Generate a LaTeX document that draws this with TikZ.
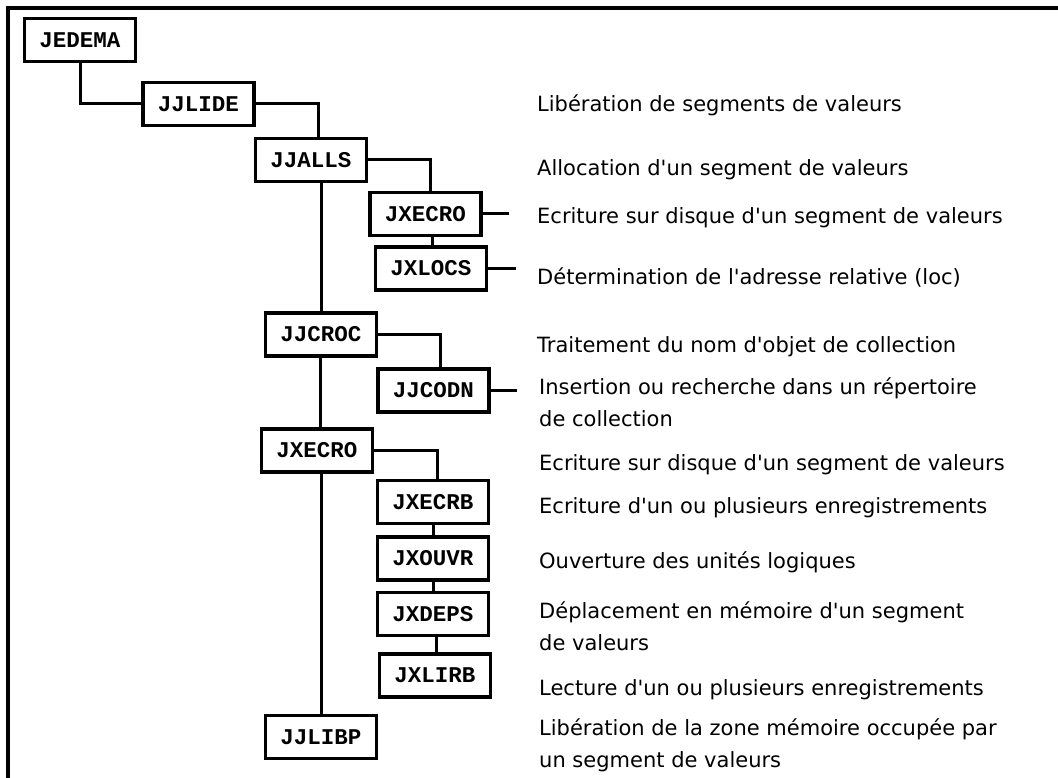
\documentclass[tikz,border=0pt]{standalone}
\usepackage{fontspec}
\usepackage{tikz}
\usetikzlibrary{positioning,calc}
\newfontfamily\boxfont{Liberation Mono}
\newfontfamily\descfont{DejaVu Sans}

\begin{document}
\begin{tikzpicture}[x=1pt, y=-1pt,
  box/.style={draw, line width=3.5pt, minimum width=111pt, minimum height=43pt, inner sep=0pt,
    font=\boxfont\bfseries\fontsize{22.5}{24}\selectfont},
  link/.style={line width=3pt},
  desc/.style={anchor=west, inner sep=0pt, align=left,
    font=\descfont\fontsize{21}{32}\selectfont}]
\useasboundingbox (0,0) rectangle (1058,778);
% frame
\draw[line width=4pt] (7.5,778) -- (7.5,8.5) -- (1058,8.5);
% modules
\node[box] (jedema)  at (80,40)      {JEDEMA};
\node[box] (jjlide)  at (198.5,104)  {JJLIDE};
\node[box] (jjalls)  at (311,160)    {JJALLS};
\node[box] (jxecroA) at (425.5,214)  {JXECRO};
\node[box] (jxlocs)  at (431,268.5)  {JXLOCS};
\node[box] (jjcroc)  at (321,334.5)  {JJCROC};
\node[box] (jjcodn)  at (433.5,390.5){JJCODN};
\node[box] (jxecroB) at (317,450.5)  {JXECRO};
\node[box] (jxecrb)  at (433,502)    {JXECRB};
\node[box] (jxouvr)  at (433,558.5)  {JXOUVR};
\node[box] (jxdeps)  at (433,614)    {JXDEPS};
\node[box] (jxlirb)  at (435,675.5)  {JXLIRB};
\node[box] (jjlibp)  at (321,737)    {JJLIBP};
% descriptions
\node[desc] (dlide)  at (537,105) {Libération de segments de valeurs};
\node[desc] (dalls)  at (537,170) {Allocation d'un segment de valeurs};
\node[desc] (decroA) at (537,218) {Ecriture sur disque d'un segment de valeurs};
\node[desc] (dlocs)  at (537,277) {Détermination de l'adresse relative (loc)};
\node[desc] (dcroc)  at (537,347) {Traitement du nom d'objet de collection};
\node[desc] (dcodn)  at (539,402) {Insertion ou recherche dans un répertoire\\de collection};
\node[desc] (decroB) at (539,465) {Ecriture sur disque d'un segment de valeurs};
\node[desc] (decrb)  at (539,508) {Ecriture d'un ou plusieurs enregistrements};
\node[desc] (douvr)  at (539,562) {Ouverture des unités logiques};
\node[desc] (ddeps)  at (539,626) {Déplacement en mémoire d'un segment\\de valeurs};
\node[desc] (dlirb)  at (539,690) {Lecture d'un ou plusieurs enregistrements};
\node[desc] (dlibp)  at (539,745) {Libération de la zone mémoire occupée par\\un segment de valeurs};
% calls
\draw[link] (jedema.south) |- (jjlide.west);
\draw[link] (jjlide.east) -| ([xshift=7pt]jjalls.north);
\draw[link] (jjalls.east) -| ([xshift=5pt]jxecroA.north);
\draw[link] ([xshift=1pt]jxlocs.north) -- ([xshift=1pt]jxlocs.north |- jxecroA.south);
\draw[link] (jxecroA.east) -- ++(26,0) coordinate (sA);
\draw[link] (jxlocs.east) -- ++(28,0) coordinate (sL);
\draw[link] (jjcroc.north) -- (jjcroc.north |- jjalls.south);
\draw[link] (jjcroc.east) -| ([xshift=7pt]jjcodn.north);
\draw[link] (jjcodn.east) -- ++(26,0) coordinate (sC);
\draw[link] ([xshift=-1pt]jjcroc.south) -- ([xshift=-1pt]jjcroc.south |- jxecroB.north);
\draw[link] (jxecroB.east) -| ([xshift=4pt]jxecrb.north);
\draw[link] (jxecrb.south) -- (jxouvr.north);
\draw[link] (jxouvr.south) -- (jxdeps.north);
\draw[link] ([xshift=3pt]jxdeps.south) -- ([xshift=3pt]jxdeps.south |- jxlirb.north);
\draw[link] (jjlibp.north) -- (jjlibp.north |- jxecroB.south);
\end{tikzpicture}
\end{document}
